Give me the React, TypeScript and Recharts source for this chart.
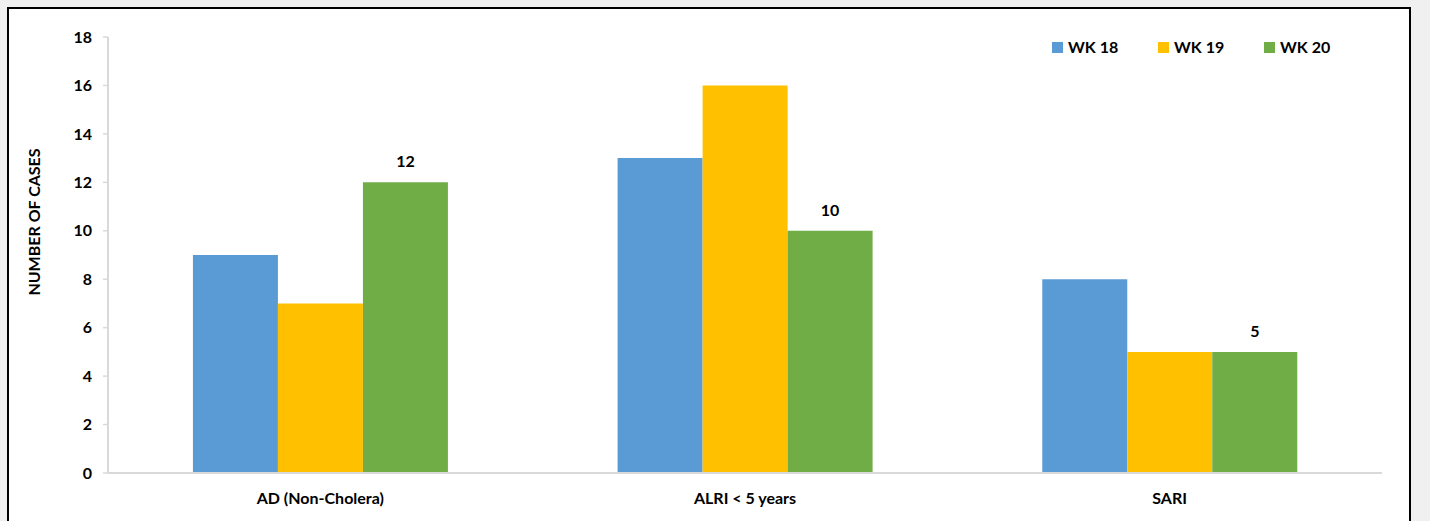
import { BarChart, Bar, XAxis, YAxis, LabelList, Label } from "recharts";

const categories = ["AD (Non-Cholera)", "ALRI < 5 years", "SARI"];
const wk18 = [9, 13, 8];
const wk19 = [7, 16, 5];
const wk20 = [12, 10, 5];
const yTicks = [0, 2, 4, 6, 8, 10, 12, 14, 16, 18];
const boundaryTicks = [0, 1, 2, 3];

const series = [
  { key: "wk18", name: "WK 18", color: "#5b9bd5" },
  { key: "wk19", name: "WK 19", color: "#ffc000" },
  { key: "wk20", name: "WK 20", color: "#70ad47" },
];

const data = categories.map((c, i) => ({
  name: c,
  wk18: wk18[i],
  wk19: wk19[i],
  wk20: wk20[i],
}));

const FONT = "Lato, 'Open Sans', sans-serif";
const axisGrey = "#d9d9d9";

// legend drawn as plain html so it doesn't eat into the plot area
function LegendBox() {
  return (
    <div
      style={{
        position: "absolute",
        left: 1052,
        top: 38,
        display: "flex",
        fontFamily: FONT,
        fontWeight: 700,
        fontSize: 16,
        lineHeight: "18px",
        color: "#000",
      }}
    >
      {series.map((s) => (
        <div key={s.key} style={{ display: "flex", alignItems: "center", width: 106 }}>
          <span style={{ width: 11, height: 11, background: s.color, marginRight: 5, display: "inline-block" }} />
          {s.name}
        </div>
      ))}
    </div>
  );
}

export default function App() {
  return (
    <div style={{ position: "fixed", left: 0, top: 0, width: 1430, height: 521, background: "#f0f0f0", overflow: "hidden" }}>
      <div
        style={{
          position: "absolute",
          left: 7,
          top: 7,
          width: 1404,
          height: 600,
          boxSizing: "border-box",
          border: "2px solid #000",
          background: "#fff",
        }}
      />
      <div style={{ position: "absolute", left: 0, top: 0 }}>
        <BarChart
          width={1430}
          height={521}
          data={data}
          margin={{ top: 37, right: 48, bottom: 0, left: 48 }}
          barCategoryGap="20%"
          barGap={0}
        >
          <XAxis
            xAxisId="edges"
            type="number"
            domain={[0, 3]}
            ticks={boundaryTicks}
            tickFormatter={() => ""}
            axisLine={false}
            tickLine={{ stroke: axisGrey, strokeWidth: 1.5 }}
            tickSize={6}
            height={0}
          />
          <XAxis
            dataKey="name"
            axisLine={{ stroke: axisGrey, strokeWidth: 2 }}
            tickLine={false}
            tickMargin={14}
            height={48}
            tick={{ fill: "#000", fontFamily: FONT, fontWeight: 700, fontSize: 16 }}
          />
          <YAxis
            domain={[0, 18]}
            ticks={yTicks}
            width={60}
            axisLine={{ stroke: axisGrey, strokeWidth: 2 }}
            tickLine={{ stroke: axisGrey, strokeWidth: 1.5 }}
            tickSize={5}
            tickMargin={11}
            tick={{ fill: "#000", fontFamily: FONT, fontWeight: 700, fontSize: 16 }}
          >
            <Label
              content={() => (
                <text
                  x={40}
                  y={222}
                  transform="rotate(-90 40 222)"
                  textAnchor="middle"
                  fontFamily={FONT}
                  fontWeight={700}
                  fontSize={16}
                  fill="#000"
                >
                  NUMBER OF CASES
                </text>
              )}
            />
          </YAxis>
          {series.map((s) => (
            <Bar key={s.key} dataKey={s.key} name={s.name} fill={s.color} isAnimationActive={false}>
              {s.key === "wk20" && (
                <LabelList
                  dataKey={s.key}
                  position="top"
                  offset={15}
                  fill="#000"
                  fontFamily={FONT}
                  fontWeight={700}
                  fontSize={16}
                />
              )}
            </Bar>
          ))}
        </BarChart>
      </div>
      <LegendBox />
    </div>
  );
}
